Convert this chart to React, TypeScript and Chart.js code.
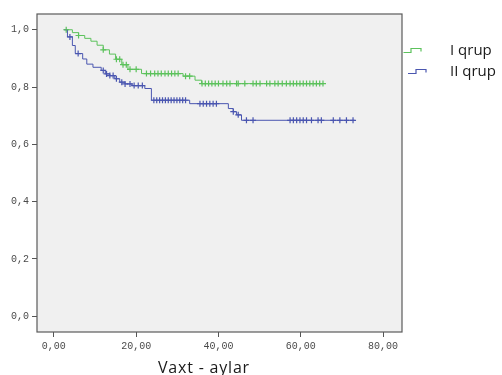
import React, { useEffect, useRef } from "react";
import { Chart, registerables } from "chart.js";

Chart.register(...registerables);

// Group I (green) Kaplan-Meier steps
const G_T = [2.5, 4.5, 6.0, 7.5, 9.0, 10.5, 12.0, 13.5, 15.0, 16.5, 18.0, 21.3, 31.4, 34.3, 35.9, 65.5];
const G_S = [1.0, 0.99, 0.98, 0.97, 0.96, 0.946, 0.93, 0.915, 0.897, 0.878, 0.862, 0.847, 0.838, 0.824, 0.812, 0.812];
// Group I censored times
const G_C = [3.0, 6.0, 12.0, 15.2, 16.0, 16.8, 17.6, 18.5, 20.0, 22.5, 23.5, 24.5, 25.3, 26.1, 27.0, 27.8, 28.6, 29.4, 30.2, 32.0, 33.0, 36.0, 36.8, 37.6, 38.4, 39.2, 40.0, 41.1, 42.0, 42.8, 44.4, 44.8, 46.4, 48.4, 49.2, 50.1, 51.7, 52.5, 53.7, 54.5, 55.5, 56.5, 57.4, 58.2, 59.0, 59.8, 60.6, 61.4, 62.2, 63.0, 63.8, 64.6, 65.4];

// Group II (blue) Kaplan-Meier steps
const B_T = [2.5, 3.3, 4.5, 5.2, 7.0, 8.0, 9.5, 11.5, 12.5, 13.6, 14.8, 16.0, 17.3, 19.0, 22.1, 23.7, 33.0, 42.4, 43.6, 44.4, 45.6, 73.1];
const B_S = [1.0, 0.975, 0.945, 0.917, 0.898, 0.88, 0.869, 0.858, 0.846, 0.84, 0.829, 0.817, 0.811, 0.805, 0.795, 0.754, 0.742, 0.725, 0.714, 0.703, 0.684, 0.684];
// Group II censored times
const B_C = [3.9, 5.9, 12.0, 12.8, 13.6, 14.4, 15.2, 16.5, 17.3, 18.5, 19.5, 20.5, 21.5, 24.3, 25.0, 25.7, 26.4, 27.1, 27.8, 28.5, 29.2, 29.9, 30.6, 31.3, 32.0, 35.5, 36.3, 37.1, 37.9, 38.7, 39.5, 43.6, 44.8, 46.8, 48.4, 57.4, 58.2, 59.0, 59.8, 60.6, 61.4, 62.6, 64.2, 65.0, 67.9, 69.5, 71.1, 72.7];

const SERIES_NAMES = ["I qrup", "II qrup"];
const X_TICKS = [0, 20, 40, 60, 80];
const X_TICK_LABELS = ["0,00", "20,00", "40,00", "60,00", "80,00"];
const Y_TICKS = [0, 0.2, 0.4, 0.6, 0.8, 1.0];
const Y_TICK_LABELS = ["0,0", "0,2", "0,4", "0,6", "0,8", "1,0"];
const X_TITLE = "Vaxt - aylar";

const GREEN = "#5cc25c";
const BLUE = "#4a56b0";

function survivalAt(T: number[], S: number[], t: number) {
  let v = S[0];
  for (let i = 0; i < T.length; i++) if (T[i] <= t) v = S[i];
  return v;
}

const framePlugin = {
  id: "frame",
  beforeDatasetsDraw(chart: any) {
    const { ctx, chartArea } = chart;
    const { left, top, right, bottom } = chartArea;
    ctx.save();
    ctx.fillStyle = "#f0f0f0";
    ctx.fillRect(left, top, right - left, bottom - top);
    ctx.strokeStyle = "#5a5a5a";
    ctx.lineWidth = 1.2;
    ctx.strokeRect(left, top, right - left, bottom - top);
    ctx.restore();
  },
};

export default function App() {
  const ref = useRef<HTMLCanvasElement | null>(null);
  useEffect(() => {
    if (!ref.current) return;
    const chart = new Chart(ref.current, {
      type: "line",
      data: {
        datasets: [
          {
            label: SERIES_NAMES[0],
            data: G_T.map((t, i) => ({ x: t, y: G_S[i] })),
            borderColor: GREEN,
            borderWidth: 1,
            stepped: "before",
            pointRadius: 0,
            fill: false,
          },
          {
            label: SERIES_NAMES[1],
            data: B_T.map((t, i) => ({ x: t, y: B_S[i] })),
            borderColor: BLUE,
            borderWidth: 1,
            stepped: "before",
            pointRadius: 0,
            fill: false,
          },
          {
            label: SERIES_NAMES[0] + " censored",
            data: G_C.map((t) => ({ x: t, y: survivalAt(G_T, G_S, t) })),
            showLine: false,
            pointStyle: "cross",
            pointRadius: 3,
            borderColor: GREEN,
            pointBorderWidth: 1.2,
          },
          {
            label: SERIES_NAMES[1] + " censored",
            data: B_C.map((t) => ({ x: t, y: survivalAt(B_T, B_S, t) })),
            showLine: false,
            pointStyle: "cross",
            pointRadius: 3,
            borderColor: BLUE,
            pointBorderWidth: 1.2,
          },
        ],
      },
      options: {
        animation: false,
        responsive: false,
        devicePixelRatio: 1,
        layout: { padding: { left: 0, top: 14, right: 100, bottom: 0 } },
        plugins: { legend: { display: false }, tooltip: { enabled: false } },
        scales: {
          x: {
            type: "linear",
            min: -4.1,
            max: 84.6,
            afterBuildTicks: (s: any) => {
              s.ticks = X_TICKS.map((v) => ({ value: v }));
            },
            afterFit: (s: any) => {
              s.height = 43;
            },
            ticks: {
              autoSkip: false,
              maxRotation: 0,
              padding: 3,
              color: "#4a4a4a",
              font: { family: "Liberation Mono", size: 10 },
              callback: (v: any) => X_TICK_LABELS[X_TICKS.indexOf(Number(v))] ?? "",
            },
            grid: { drawOnChartArea: false, drawTicks: true, tickLength: 5, color: "#555" },
            border: { display: false },
          },
          y: {
            type: "linear",
            min: -0.055,
            max: 1.055,
            afterBuildTicks: (s: any) => {
              s.ticks = Y_TICKS.map((v) => ({ value: v }));
            },
            afterFit: (s: any) => {
              s.width = 37;
            },
            ticks: {
              autoSkip: false,
              padding: 3,
              color: "#4a4a4a",
              font: { family: "Liberation Mono", size: 10 },
              callback: (v: any) => {
                const i = Y_TICKS.findIndex((y) => Math.abs(y - Number(v)) < 1e-6);
                return i >= 0 ? Y_TICK_LABELS[i] : "";
              },
            },
            grid: { drawOnChartArea: false, drawTicks: true, tickLength: 5, color: "#555" },
            border: { display: false },
          },
        },
      },
      plugins: [framePlugin],
    } as any);
    return () => chart.destroy();
  }, []);

  const legendText: React.CSSProperties = {
    position: "absolute",
    left: 450,
    fontFamily: "'Open Sans', 'Liberation Sans', sans-serif",
    fontSize: 15,
    color: "#1a1a1a",
    lineHeight: "18px",
    whiteSpace: "nowrap",
  };

  return (
    <div style={{ position: "fixed", left: 0, top: 0, width: 502, height: 375, background: "#fff", overflow: "hidden" }}>
      <canvas ref={ref} width={502} height={375} style={{ position: "absolute", left: 0, top: 0 }} />
      <svg style={{ position: "absolute", left: 402, top: 46, overflow: "visible" }} width={30} height={30}>
        <path d="M1.5,6.5 H9 V2.5 H19 V5.5" fill="none" stroke={GREEN} strokeWidth={1.2} />
        <path d="M6,27.5 H14 V23.5 H24 V26.5" fill="none" stroke={BLUE} strokeWidth={1.2} />
      </svg>
      <div style={{ ...legendText, top: 40 }}>{SERIES_NAMES[0]}</div>
      <div style={{ ...legendText, top: 61 }}>{SERIES_NAMES[1]}</div>
      <div
        style={{
          position: "absolute",
          left: 158,
          top: 358,
          fontFamily: "'Open Sans', 'Liberation Sans', sans-serif",
          fontSize: 16,
          letterSpacing: "0.8px",
          color: "#1a1a1a",
          lineHeight: "18px",
          whiteSpace: "nowrap",
        }}
      >
        {X_TITLE}
      </div>
    </div>
  );
}
